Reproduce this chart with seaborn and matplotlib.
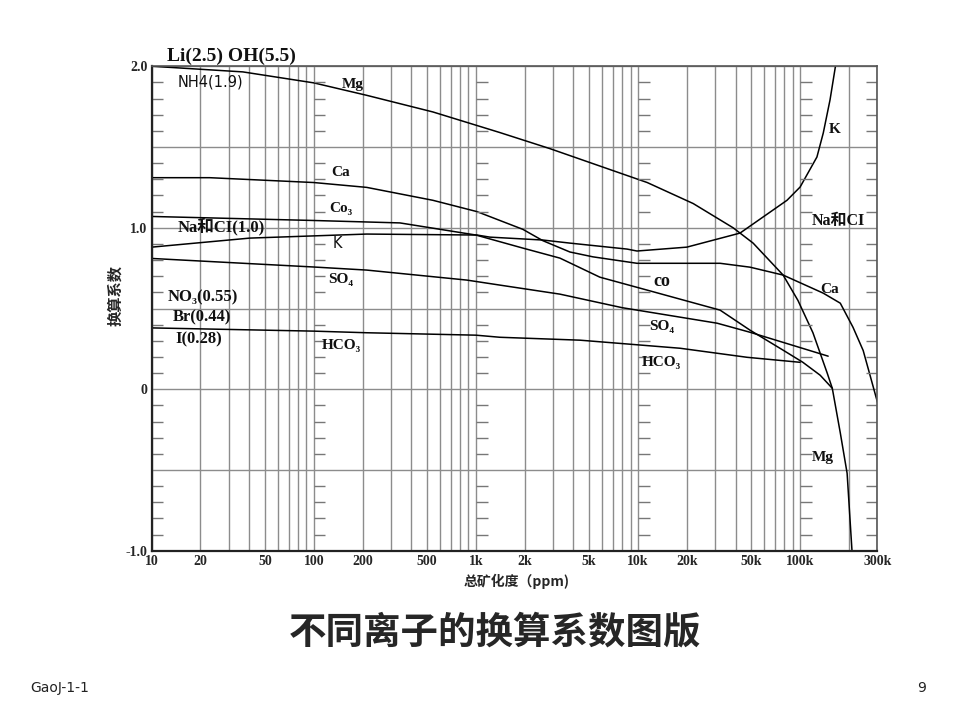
import numpy as np
import pandas as pd
import matplotlib
matplotlib.use("Agg")
import matplotlib.pyplot as plt
import seaborn as sns
from matplotlib.ticker import LogLocator, NullFormatter

# ---- data: total dissolved solids (ppm) vs factor ----
mg_x = [10, 36.5, 100, 212, 543, 1400, 2860, 11400, 21900, 38600, 51300, 78600,
        97000, 120000, 147000, 158000, 177000, 195000, 209000]
mg_y = [2.00, 1.965, 1.897, 1.82, 1.717, 1.59, 1.49, 1.28, 1.15, 1.00, 0.905,
        0.707, 0.55, 0.35, 0.10, 0.006, -0.27, -0.52, -1.0]

ca_x = [10, 22.8, 100, 212, 543, 1015, 1950, 2590, 3800, 5270, 9860, 32100,
        49100, 78600, 139000, 177000, 212000, 245000, 270000, 300000]
ca_y = [1.31, 1.31, 1.28, 1.25, 1.17, 1.10, 0.99, 0.92, 0.85, 0.82, 0.78, 0.78,
        0.756, 0.707, 0.595, 0.533, 0.384, 0.24, 0.087, -0.08]

co3_x = [10, 100, 340, 1000, 1950, 3300, 5820, 10300, 32100, 49100, 78600,
         104000, 133000, 158000]
co3_y = [1.07, 1.045, 1.03, 0.955, 0.874, 0.812, 0.694, 0.626, 0.49, 0.366,
         0.242, 0.167, 0.087, 0.006]

k_x = [10, 40.3, 212, 1015, 1220, 2590, 3800, 8560, 9860, 20000, 42600, 83000,
       100000, 127000, 139000, 153000, 165000]
k_y = [0.88, 0.936, 0.961, 0.955, 0.942, 0.924, 0.905, 0.868, 0.856, 0.88,
       0.967, 1.17, 1.252, 1.438, 1.587, 1.792, 1.996]

so4_x = [10, 100, 212, 880, 1406, 3300, 8000, 30800, 49100, 149000]
so4_y = [0.81, 0.757, 0.738, 0.676, 0.645, 0.589, 0.505, 0.409, 0.353, 0.205]

hco3_x = [10, 100, 212, 1000, 1406, 4390, 18200, 47100, 100000]
hco3_y = [0.38, 0.36, 0.35, 0.335, 0.322, 0.304, 0.254, 0.198, 0.167]

xtick_vals = [10, 20, 50, 100, 200, 500, 1e3, 2e3, 5e3, 1e4, 2e4, 5e4, 1e5, 3e5]
xtick_labels = ["10", "20", "50", "100", "200", "500", "1k", "2k", "5k", "10k",
                "20k", "50k", "100k", "300k"]
ytick_vals = [-1.0, -0.5, 0, 0.5, 1.0, 1.5, 2.0]
ytick_labels = ["-1.0", "", "0", "", "1.0", "", "2.0"]

frames = []
for name, xs, ys in [("Mg", mg_x, mg_y), ("Ca", ca_x, ca_y), ("CO3", co3_x, co3_y),
                     ("K", k_x, k_y), ("SO4", so4_x, so4_y), ("HCO3", hco3_x, hco3_y)]:
    frames.append(pd.DataFrame({"ion": name, "tds": xs, "factor": ys}))
df = pd.concat(frames, ignore_index=True)

sns.set_theme(style="white")
plt.rcParams["font.family"] = ["Liberation Serif", "Noto Sans CJK SC", "DejaVu Sans"]

fig = plt.figure(figsize=(9.6, 7.2), dpi=100)
ax = fig.add_axes([0.158, 0.235, 0.756, 0.673])

sns.lineplot(data=df, x="tds", y="factor", units="ion", estimator=None,
             sort=False, color="black", lw=1.1, ax=ax)

ax.set_xscale("log")
ax.set_xlim(10, 300000)
ax.set_ylim(-1.0, 2.0)

# grid: every log minor line, horizontals every 0.5
ax.xaxis.set_minor_locator(LogLocator(base=10, subs=np.arange(2, 10)))
ax.xaxis.set_minor_formatter(NullFormatter())
ax.set_xticks(xtick_vals)
ax.set_xticklabels(xtick_labels)
ax.set_yticks(ytick_vals)
ax.set_yticklabels(ytick_labels)
ax.grid(True, which="both", axis="x", color="#8c8c8c", lw=1.0)
ax.grid(True, which="major", axis="y", color="#8c8c8c", lw=1.0)
ax.tick_params(which="both", length=0, labelsize=10, pad=3)
for lab in ax.get_xticklabels() + ax.get_yticklabels():
    lab.set_fontweight("bold")
ax.set_xlabel("")
ax.set_ylabel("")

for side in ["left", "bottom"]:
    ax.spines[side].set_color("#222222")
    ax.spines[side].set_linewidth(1.6)
for side in ["top", "right"]:
    ax.spines[side].set_color("#555555")
    ax.spines[side].set_linewidth(1.2)

# short scale dashes beside the decade lines
dash_y = [v / 10 for v in range(-9, 20) if v % 5 != 0]
for x0 in [10, 100, 1e3, 1e4, 1e5]:
    ax.hlines(dash_y, x0, x0 * 1.18, color="#777777", lw=1.0)
ax.hlines(dash_y, 300000 / 1.18, 300000, color="#777777", lw=1.0)

# curve labels
bold = dict(fontweight="bold", color="#111111")
ax.text(12.4, 2.06, "Li(2.5) OH(5.5)", fontsize=14, va="center", clip_on=False, **bold)
ax.text(14.5, 1.9, "NH4(1.9)", fontsize=10.5, va="center", family="DejaVu Sans", color="#111111")
ax.text(14.5, 1.01, "Na和CI(1.0)", fontsize=12, va="center", **bold)
ax.text(12.6, 0.57, "NO₃(0.55)", fontsize=12, va="center", **bold)
ax.text(13.5, 0.447, "Br(0.44)", fontsize=12, va="center", **bold)
ax.text(14.0, 0.31, "I(0.28)", fontsize=12, va="center", **bold)

ax.text(174, 1.885, "Mg", fontsize=11, ha="center", va="center", **bold)
ax.text(147, 1.345, "Ca", fontsize=11, ha="center", va="center", **bold)
ax.text(147, 1.12, "Co₃", fontsize=11, ha="center", va="center", **bold)
ax.text(139, 0.90, "K", fontsize=10.5, ha="center", va="center", family="DejaVu Sans", color="#111111")
ax.text(147, 0.68, "SO₄", fontsize=11, ha="center", va="center", **bold)
ax.text(147, 0.273, "HCO₃", fontsize=11, ha="center", va="center", **bold)

ax.text(14060, 0.67, "co", fontsize=13, ha="center", va="center", **bold)
ax.text(14000, 0.39, "SO₄", fontsize=11, ha="center", va="center", **bold)
ax.text(14000, 0.167, "HCO₃", fontsize=11, ha="center", va="center", **bold)
ax.text(164000, 1.61, "K", fontsize=11, ha="center", va="center", **bold)
ax.text(172000, 1.04, "Na和CI", fontsize=11.5, ha="center", va="center", **bold)
ax.text(153000, 0.62, "Ca", fontsize=11, ha="center", va="center", **bold)
ax.text(139000, -0.42, "Mg", fontsize=11, ha="center", va="center", **bold)

# axis titles, chart title, footer
fig.text(115 / 960, 1 - 295 / 720, "换算系数", rotation=90, fontsize=11,
         fontweight="bold", ha="center", va="center", family=["Noto Sans CJK SC"])
fig.text(517 / 960, 1 - 581 / 720, "总矿化度（ppm)", fontsize=10,
         fontweight="bold", ha="center", va="center",
         family=["Noto Sans CJK SC", "Liberation Serif"])
fig.text(495 / 960, 1 - 632 / 720, "不同离子的换算系数图版", fontsize=27,
         fontweight="bold", ha="center", va="center", family=["Noto Sans CJK SC"])
fig.text(30 / 960, 1 - 688 / 720, "GaoJ-1-1", fontsize=10, ha="left",
         va="center", family=["DejaVu Sans"], color="#222222")
fig.text(922 / 960, 1 - 688 / 720, "9", fontsize=10, ha="center",
         va="center", family=["DejaVu Sans"], color="#222222")

fig.savefig("out.png", dpi=100)
